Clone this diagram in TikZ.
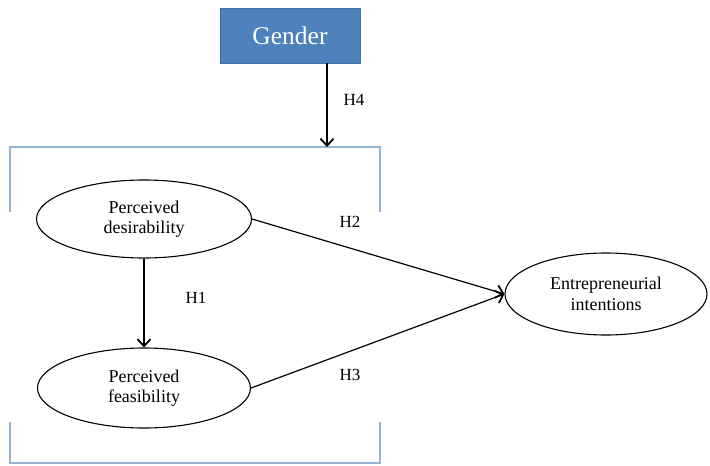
\documentclass[tikz,border=0pt]{standalone}
\usepackage{fontspec}
\setmainfont{Liberation Serif}
\usetikzlibrary{shapes.geometric,arrows.meta}
\definecolor{gblue}{HTML}{4F81BD}
\definecolor{frameblue}{HTML}{95B3D7}
\tikzset{
  latent/.style={ellipse,draw,line width=1.1pt,minimum width=#1,minimum height=80pt,inner sep=0pt,align=center,font=\fontsize{18}{20.5}\selectfont},
  conn/.style={line width=1.2pt,-{Straight Barb[length=7pt,width=13pt,line width=1.8pt]}},
  hlab/.style={font=\fontsize{17}{19}\selectfont},
  frame/.style={draw=frameblue,line width=1.5pt}
}
\begin{document}
\begin{tikzpicture}[x=1pt,y=-1pt]
\useasboundingbox (0,0) rectangle (710,466);
% frame with gaps in the sides
\coordinate (f1) at (10,212);
\coordinate (f2) at (10,147);
\coordinate (f3) at (380,147);
\coordinate (f4) at (380,212);
\coordinate (f5) at (10,422);
\coordinate (f6) at (10,463);
\coordinate (f7) at (380,463);
\coordinate (f8) at (380,422);
\draw[frame] (f1) -- (f2) -- (f3) -- (f4);
\draw[frame] (f5) -- (f6) -- (f7) -- (f8);
% gender
\node[fill=gblue,draw=gblue!85!black,line width=0.5pt,minimum width=140pt,minimum height=55pt,text=white,font=\fontsize{25.5}{28}\selectfont] (g) at (290,35.5) {Gender};
\coordinate (gt) at (327,147);
\draw[conn] (g.south -| gt) -- (gt);
\node[hlab] (h4) at (354,100) {H4};
% ellipses
\node[latent=215pt,minimum height=78pt] (pd) at (144,219) {Perceived\\desirability};
\node[latent=213pt] (pf) at (144,388) {Perceived\\feasibility};
\node[latent=202pt,minimum height=82pt] (ei) at (606,294) {Entrepreneurial\\intentions};
\draw[conn] (pd) -- (pf);
\draw[conn] (pd.east) -- (ei.west);
\draw[conn] (pf.east) -- (ei.west);
\node[hlab] (h1) at (196,298) {H1};
\node[hlab] (h2) at (350,222) {H2};
\node[hlab] (h3) at (350,375) {H3};
\end{tikzpicture}
\end{document}
